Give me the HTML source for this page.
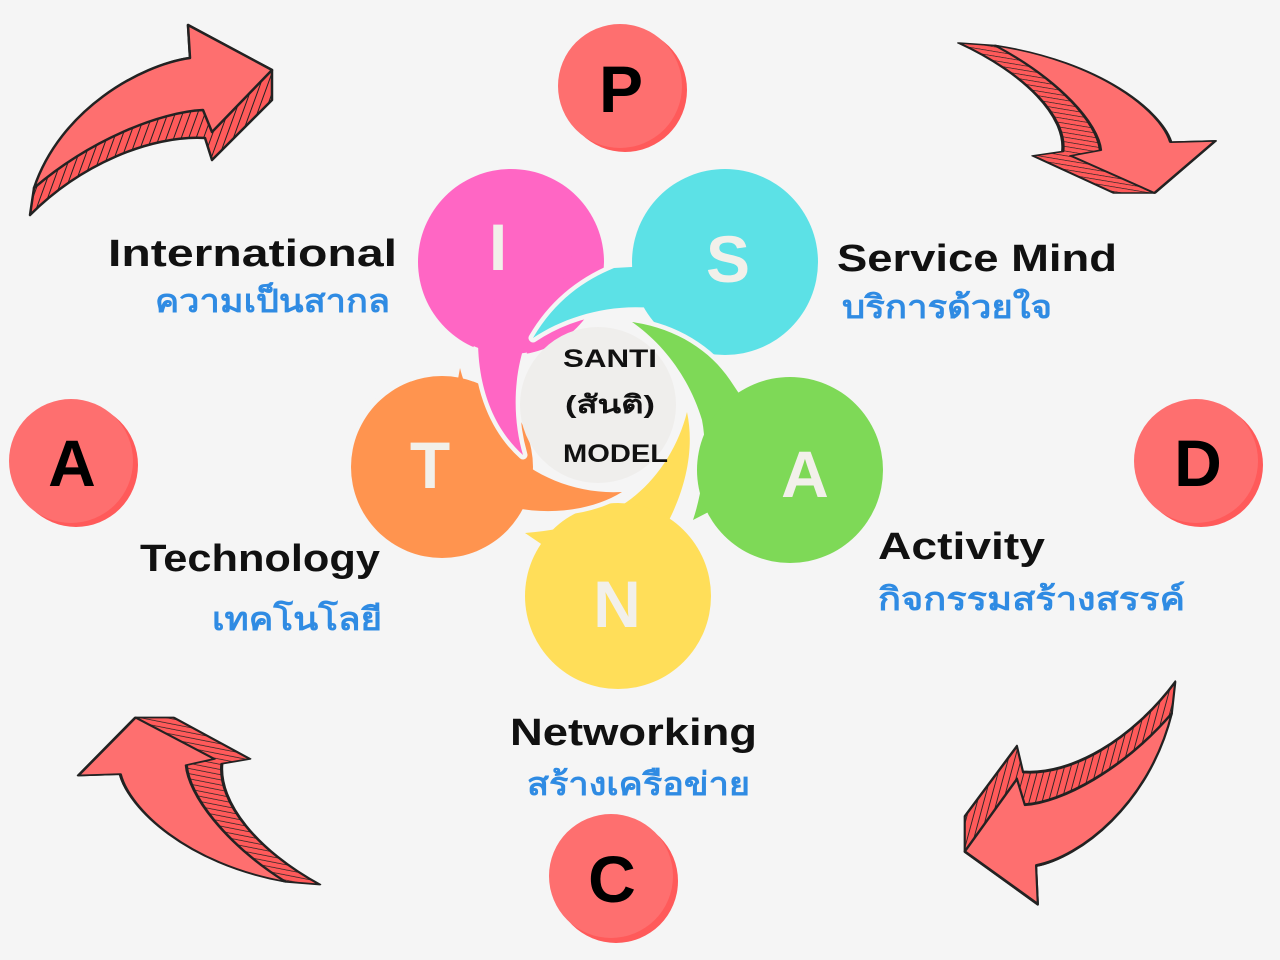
<!DOCTYPE html>
<html><head><meta charset="utf-8"><style>
html,body{margin:0;padding:0;background:#f5f5f5}
svg{display:block}
.en{font-family:"Liberation Sans",sans-serif;font-weight:bold;fill:#111}
.th{font-family:"Liberation Sans","Noto Sans CJK SC",sans-serif;font-weight:bold;fill:#2f8be3}
.let{font-family:"Liberation Sans",sans-serif;font-weight:bold;fill:#f2f0ea;text-anchor:middle}
.big{font-family:"Liberation Sans",sans-serif;font-weight:900;fill:#000;text-anchor:middle;font-size:66px}
.s{stroke:#f5f5f5;stroke-width:9;stroke-linejoin:round}
</style></head><body>
<svg width="1280" height="960" viewBox="0 0 1280 960" xmlns="http://www.w3.org/2000/svg">
<defs>
<pattern id="h" width="7" height="7" patternUnits="userSpaceOnUse" patternTransform="rotate(20)">
<rect width="7" height="7" fill="#ff5a5a"/><line x1="0" y1="0" x2="0" y2="7" stroke="#222" stroke-width="2"/>
</pattern>
<g id="arr">
<path d="M30,215 L34,188 C70,110 140,65 190,58 L188,25 L272,70 L272,100 L212,160 L205,138 C150,135 80,165 30,215 Z" fill="url(#h)" stroke="#222" stroke-width="2.5" stroke-linejoin="round"/>
<path d="M34,188 C60,110 140,65 190,58 L188,25 L272,70 L212,132 L203,110 C160,112 90,140 34,188 Z" fill="#fe6f6f" stroke="#222" stroke-width="2.5" stroke-linejoin="round"/>
</g>
<path id="tc" d="M614,268 C585,280 555,300 533,338 C575,310 640,295 700,320 C715,328 725,336 732,347 L725,262 Z"/>
<path id="tg" d="M730,380 C710,350 675,328 632,322 C665,345 690,380 702,420 C708,450 703,490 693,520 L790,470 Z"/>
<path id="ty" d="M667,524 C685,490 695,450 687,412 C675,460 640,505 590,520 C570,527 550,531 525,533 L618,596 Z"/>
<path id="to" d="M512,507 C545,515 590,512 622,492 C570,495 520,470 495,435 C478,410 465,390 460,368 L442,467 Z"/>
<path id="tp" d="M478,340 C478,390 495,430 523,455 C510,410 512,350 547,300 C560,282 572,268 588,255 L510,262 Z"/>
<mask id="mp" maskUnits="userSpaceOnUse" x="0" y="0" width="1280" height="960">
<rect width="1280" height="960" fill="#fff"/><circle cx="511" cy="262" r="92" fill="#000"/>
</mask>
</defs>
<rect width="1280" height="960" fill="#f5f5f5"/>
<use href="#arr"/>
<use href="#arr" transform="translate(1087,118) rotate(90) scale(0.62,1.35) translate(-151,-120)"/>
<use href="#arr" transform="translate(1070,793) rotate(180) scale(0.87,1.17) translate(-151,-120)"/>
<use href="#arr" transform="translate(199,801) rotate(270) scale(0.69,1.27) translate(-151,-120)"/>

<!-- PDCA circles -->
<circle cx="625" cy="90" r="62" fill="#ff5a5a"/><circle cx="620" cy="86" r="62" fill="#fe6f6f"/>
<text x="621" y="112" class="big">P</text>
<circle cx="76" cy="465" r="62" fill="#ff5a5a"/><circle cx="71" cy="461" r="62" fill="#fe6f6f"/>
<text x="72" y="486" class="big">A</text>
<circle cx="1201" cy="465" r="62" fill="#ff5a5a"/><circle cx="1196" cy="461" r="62" fill="#fe6f6f"/>
<text x="1198" y="486" class="big">D</text>
<circle cx="616" cy="881" r="62" fill="#ff5a5a"/><circle cx="611" cy="876" r="62" fill="#fe6f6f"/>
<text x="612" y="902" class="big">C</text>

<!-- petals -->
<circle cx="511" cy="262" r="93" fill="#ff66c4"/>
<g class="s" fill="#f5f5f5"><use href="#tc"/><circle cx="725" cy="262" r="93"/></g>
<g fill="#5ce1e6"><use href="#tc"/><circle cx="725" cy="262" r="93"/></g>
<g class="s" fill="#f5f5f5"><use href="#tg"/><circle cx="790" cy="470" r="93"/></g>
<g fill="#7ed957"><use href="#tg"/><circle cx="790" cy="470" r="93"/></g>
<g class="s" fill="#f5f5f5"><use href="#ty"/><circle cx="618" cy="596" r="93"/></g>
<g fill="#ffde59"><use href="#ty"/><circle cx="618" cy="596" r="93"/></g>
<g class="s" fill="#f5f5f5"><use href="#to"/><circle cx="442" cy="467" r="91"/></g>
<g fill="#ff944f"><use href="#to"/><circle cx="442" cy="467" r="91"/></g>
<use href="#tp" class="s" fill="#f5f5f5" mask="url(#mp)"/>
<use href="#tp" fill="#ff66c4"/>
<circle cx="598" cy="405" r="78" fill="#efeeec"/>

<text x="498" y="270" class="let" font-size="66">I</text>
<text x="728" y="282" class="let" font-size="66">S</text>
<text x="805" y="497" class="let" font-size="66">A</text>
<text x="617" y="627" class="let" font-size="66">N</text>
<text x="430" y="488" class="let" font-size="66">T</text>

<text x="563" y="367" class="en" font-size="25" textLength="94" lengthAdjust="spacingAndGlyphs">SANTI</text>
<text x="565" y="413" class="en" font-size="25" textLength="90" lengthAdjust="spacingAndGlyphs" style="font-family:'Liberation Sans','Noto Sans CJK SC',sans-serif">(สันติ)</text>
<text x="563" y="462" class="en" font-size="25" textLength="105" lengthAdjust="spacingAndGlyphs">MODEL</text>

<text x="108" y="266" class="en" font-size="38" textLength="289" lengthAdjust="spacingAndGlyphs">International</text>
<text x="155" y="312" class="th" font-size="32" textLength="235" lengthAdjust="spacingAndGlyphs">ความเป็นสากล</text>
<text x="837" y="271" class="en" font-size="38" textLength="280" lengthAdjust="spacingAndGlyphs">Service Mind</text>
<text x="842" y="318" class="th" font-size="32" textLength="210" lengthAdjust="spacingAndGlyphs">บริการด้วยใจ</text>
<text x="878" y="559" class="en" font-size="38" textLength="167" lengthAdjust="spacingAndGlyphs">Activity</text>
<text x="878" y="610" class="th" font-size="32" textLength="307" lengthAdjust="spacingAndGlyphs">กิจกรรมสร้างสรรค์</text>
<text x="140" y="571" class="en" font-size="38" textLength="240" lengthAdjust="spacingAndGlyphs">Technology</text>
<text x="212" y="630" class="th" font-size="32" textLength="170" lengthAdjust="spacingAndGlyphs">เทคโนโลยี</text>
<text x="510" y="745" class="en" font-size="38" textLength="247" lengthAdjust="spacingAndGlyphs">Networking</text>
<text x="527" y="795" class="th" font-size="32" textLength="223" lengthAdjust="spacingAndGlyphs">สร้างเครือข่าย</text>
</svg>
</body></html>
